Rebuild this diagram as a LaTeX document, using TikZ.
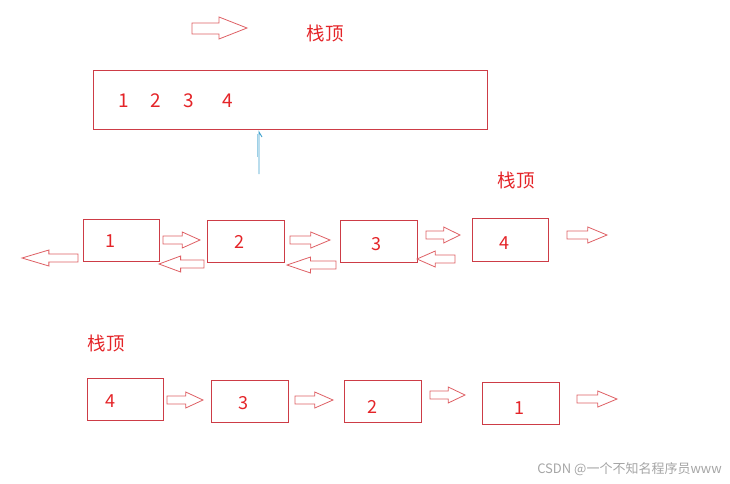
\documentclass[tikz,border=0pt]{standalone}
\usepackage{fontspec}
\setmainfont{Noto Sans CJK SC}
\definecolor{boxred}{RGB}{205,60,70}
\definecolor{txtred}{RGB}{228,36,40}
\definecolor{arrred}{RGB}{222,95,100}
\definecolor{lineblue}{RGB}{60,160,205}
\definecolor{wm}{RGB}{165,165,165}
\tikzset{
  box/.style={draw=boxred, line width=0.9pt},
  num/.style={text=txtred, font=\fontsize{18}{20}\selectfont, inner sep=0pt},
  bignum/.style={text=txtred, font=\fontsize{19}{21}\selectfont, inner sep=0pt},
  lbl/.style={text=txtred, font=\fontsize{18.5}{20}\selectfont, inner sep=0pt},
  arr/.style={draw=arrred, line width=0.8pt, line join=miter},
}
\newcommand{\barr}[3]{\pgfmathsetmacro{\hb}{#2-0.48*(#2-#1)}%
  \draw[arr] (#1,#3-4) -- (\hb,#3-4) -- (\hb,#3-8) -- (#2,#3) -- (\hb,#3+8) -- (\hb,#3+4) -- (#1,#3+4) -- cycle;}
\begin{document}
\begin{tikzpicture}[x=1pt,y=-1pt]
\useasboundingbox (0,0) rectangle (730,483);
% top
\draw[arr] (192,23) -- (219,23) -- (219,17) -- (247,28) -- (219,39) -- (219,34) -- (192,34) -- cycle;
\node[lbl] (t1) at (325,33) {栈顶};
\draw[box] (93,70) rectangle (487,129);
\node[bignum] (a1) at (124,101) {1};
\node[bignum] (a2) at (156,101) {2};
\node[bignum] (a3) at (189,101) {3};
\node[bignum] (a4) at (228,101) {4};
% blue pointer
\draw[lineblue, line width=0.9pt] (259,174) -- (259,132) -- (262,137);
\draw[lineblue!50, line width=0.7pt] (257,157) -- (257,134);
% middle row
\node[lbl] (t2) at (516,180) {栈顶};
\draw[box] (83,219) rectangle (159,261);
\draw[box] (207,220) rectangle (284,262);
\draw[box] (340,220) rectangle (417,262);
\draw[box] (472,218) rectangle (548,261);
\node[num] (m1) at (110,241) {1};
\node[num] (m2) at (239,242) {2};
\node[num] (m3) at (376,244) {3};
\node[num] (m4) at (504,243) {4};
\barr{163}{200}{240}
\barr{290}{330}{240}
\barr{426}{460}{235}
\barr{567}{607}{235}
\barr{78}{22}{258}
\barr{204}{159}{264}
\barr{336}{287}{265}
\barr{455}{417}{259}
% bottom row
\node[lbl] (t3) at (106,343) {栈顶};
\draw[box] (87,378) rectangle (163,420);
\draw[box] (211,380) rectangle (288,422);
\draw[box] (344,380) rectangle (421,422);
\draw[box] (482,382) rectangle (559,424);
\node[num] (b4) at (110,401) {4};
\node[num] (b3) at (243,403) {3};
\node[num] (b2) at (372,407) {2};
\node[num] (b1) at (519,408) {1};
\barr{167}{203}{400}
\barr{295}{333}{400}
\barr{430}{465}{395}
\barr{577}{617}{399}
% watermark
\node[text=wm, font=\fontsize{13}{15}\selectfont, anchor=east, inner sep=0pt] (wmk) at (722,469) {CSDN @一个不知名程序员www};
\end{tikzpicture}
\end{document}
